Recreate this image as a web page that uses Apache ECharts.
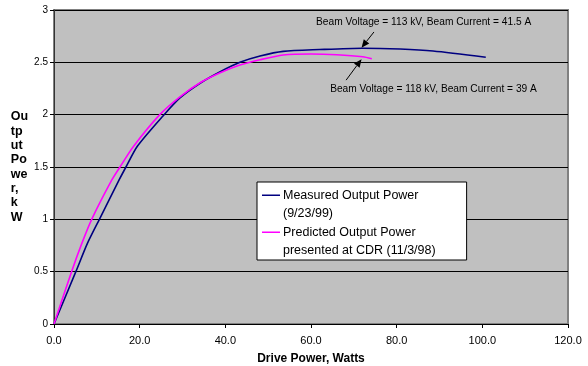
<!DOCTYPE html>
<html><head><meta charset="utf-8">
<script src="https://cdn.jsdelivr.net/npm/echarts@6/dist/echarts.min.js"></script>
<style>html,body{margin:0;padding:0;background:#fff}#c{width:588px;height:366px}</style>
</head><body><div id="c"></div>
<script>
const measuredName = 'Measured Output Power (9/23/99)';
const predictedName = 'Predicted Output Power presented at CDR (11/3/98)';
const legendLabels = {};
legendLabels[measuredName] = 'Measured Output Power\n(9/23/99)';
legendLabels[predictedName] = 'Predicted Output Power\npresented at CDR (11/3/98)';
const measured = [[0,0],[5.1,0.5],[7.8,0.77],[10.6,1.0],[15.2,1.376],[16.8,1.5],[19.5,1.70],[25.5,1.99],[29.4,2.16],[34.1,2.30],[38.8,2.41],[43.4,2.5],[48.1,2.56],[53.5,2.605],[62,2.622],[72,2.635],[80.8,2.627],[88.5,2.608],[100.8,2.548]];
const predicted = [[0,0],[4.1,0.5],[6.5,0.77],[8.8,1.0],[13.5,1.376],[15.4,1.5],[18.5,1.694],[24.7,2.0],[29.4,2.17],[34.1,2.305],[38.8,2.40],[43.4,2.475],[48.1,2.525],[53.5,2.57],[60,2.58],[66,2.573],[72.1,2.554],[74.2,2.535]];
const xTicks = [0,20,40,60,80,100,120];
const yTicks = [0,0.5,1,1.5,2,2.5,3];
const note1 = 'Beam Voltage = 113 kV, Beam Current = 41.5 A';
const note2 = 'Beam Voltage = 118 kV, Beam Current = 39 A';
// annotation anchors in data space
const note1At = [86.3, 2.885], arrow1 = [[74.7,2.79],[71.8,2.64]];
const note2At = [88.6, 2.245], arrow2 = [[68.2,2.33],[71.8,2.53]];

const chart = echarts.init(document.getElementById('c'));
const FONT = 'Liberation Sans, Arial, sans-serif';
chart.setOption({
  animation: false,
  textStyle: {fontFamily: FONT, color: '#000'},
  grid: {left: 54, right: 20, top: 10, bottom: 42, outerBoundsMode: 'none', containLabel: false, show: true, backgroundColor: '#C0C0C0', borderColor: '#808080', borderWidth: 2},
  xAxis: {
    type: 'value', min: xTicks[0], max: xTicks[xTicks.length-1], interval: 20,
    name: 'Drive Power, Watts', nameLocation: 'middle', nameGap: 29,
    nameTextStyle: {fontWeight: 'bold', fontSize: 12, fontFamily: FONT, color: '#000'},
    axisLine: {lineStyle: {color: '#000', width: 1}},
    axisTick: {show: true, length: 4, lineStyle: {color: '#000'}},
    axisLabel: {fontSize: 11, color: '#000', margin: 11, formatter: v => v.toFixed(1)},
    splitLine: {show: false}
  },
  yAxis: {
    type: 'value', min: yTicks[0], max: yTicks[yTicks.length-1], interval: 0.5,
    name: 'Ou\ntp\nut\nPo\nwe\nr,\nk\nW', nameLocation: 'middle', nameGap: 41, nameRotate: 0,
    nameTextStyle: {fontWeight: 'bold', fontSize: 12.5, lineHeight: 14.3, align: 'left', fontFamily: FONT, color: '#000', padding: [0,0,4,0]},
    axisLine: {show: true, lineStyle: {color: '#333', width: 1}},
    axisTick: {show: true, length: 4, lineStyle: {color: '#000'}},
    axisLabel: {fontSize: 10, color: '#000', margin: 6},
    splitLine: {show: true, lineStyle: {color: '#000', width: 1}}
  },
  legend: {
    left: 257, top: 182, orient: 'vertical',
    backgroundColor: '#fff', borderColor: '#000', borderWidth: 1,
    padding: [4, 31, 0, 5], itemGap: 0, itemWidth: 18, itemHeight: 37,
    icon: 'path://M0,0H0.01V0.01H0Z M0,8.5H18V10H0Z M0,37H0.01V37.01H0Z',
    textStyle: {fontSize: 12.5, lineHeight: 18.5, color: '#000', fontFamily: FONT, padding: [0,0,0,-2]},
    formatter: n => legendLabels[n],
    data: [measuredName, predictedName]
  },
  series: [
    {name: measuredName, type: 'line', data: measured, smooth: 0.25, showSymbol: false, color: '#000080', lineStyle: {width: 1.6, color: '#000080'}},
    {name: predictedName, type: 'line', data: predicted, smooth: 0.25, showSymbol: false, color: '#FF00FF', lineStyle: {width: 1.6, color: '#FF00FF'}}
  ]
});

function px(p){ return chart.convertToPixel({gridIndex: 0}, p); }
function arrow(a){
  const s = px(a[0]), e = px(a[1]);
  const ang = Math.atan2(e[1]-s[1], e[0]-s[0]);
  const L = 8, W = 3.5;
  const bx = e[0] - L*Math.cos(ang), by = e[1] - L*Math.sin(ang);
  const nx = -Math.sin(ang)*W, ny = Math.cos(ang)*W;
  return [
    {type: 'line', shape: {x1: s[0], y1: s[1], x2: bx, y2: by}, style: {stroke: '#000', lineWidth: 1}, z: 100},
    {type: 'polygon', shape: {points: [[e[0],e[1]],[bx+nx,by+ny],[bx-nx,by-ny]]}, style: {fill: '#000'}, z: 100}
  ];
}
const t1 = px(note1At), t2 = px(note2At);
chart.setOption({graphic: [
  {type: 'text', x: t1[0], y: t1[1], style: {text: note1, fontSize: 10.2, fontFamily: FONT, fill: '#000', align: 'center', verticalAlign: 'middle'}, z: 100},
  {type: 'text', x: t2[0], y: t2[1], style: {text: note2, fontSize: 10.2, fontFamily: FONT, fill: '#000', align: 'center', verticalAlign: 'middle'}, z: 100},
  ...arrow(arrow1), ...arrow(arrow2)
]});
</script></body></html>
